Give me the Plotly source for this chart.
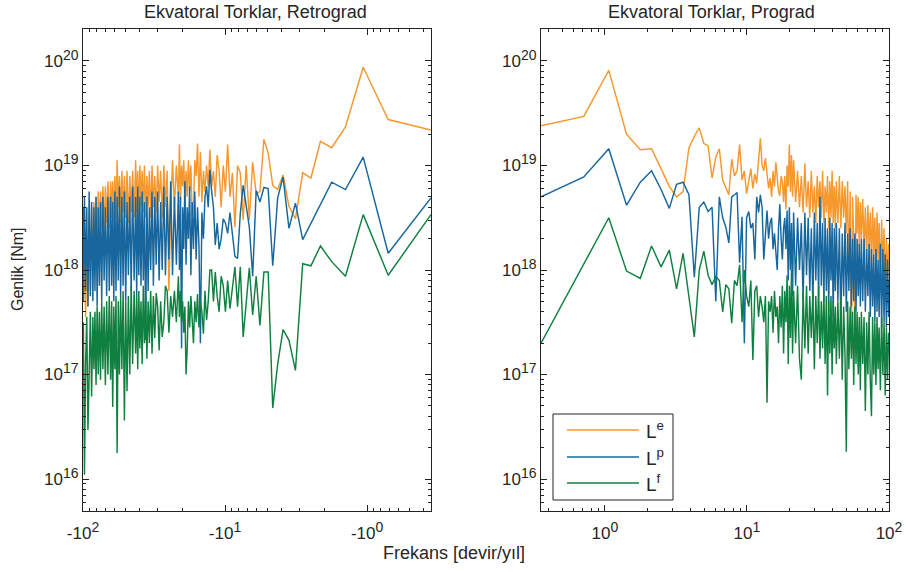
import plotly.graph_objects as go

# frequency resolution [devir/yıl] and harmonic numbers of the plotted samples
DF = 0.355
harm = [1, 2, 3, 4, 5, 6, 7, 8, 9, 10, 11, 12, 13, 14, 15, 16, 17, 18, 19, 20,
        21, 22, 23, 24, 25, 26, 27, 28, 29, 30, 31, 32, 33, 34, 35, 36, 37, 38, 39, 40,
        41, 42, 43, 44, 45, 46, 47, 48, 49, 50, 51, 52, 53, 54, 55, 56, 57, 58, 59, 60,
        62, 64, 66, 68, 70, 72, 74, 76, 78, 80, 82, 84, 86, 88, 90,
        92, 94, 96, 98, 100, 102, 104, 106, 108, 110, 112, 114, 116, 118, 120,
        123, 126, 129, 132, 135, 138, 141, 144, 147, 150,
        153, 156, 159, 162, 165, 168, 171, 174, 177, 180,
        184, 188, 192, 196, 200, 204, 208, 212, 216, 220, 224, 228, 232, 236, 240,
        245, 250, 255, 260, 265, 270, 275, 280, 282]

# amplitudes as log10(Nm)
pro_Le = [19.38, 19.47, 19.91, 19.30, 19.15, 19.16, 18.97, 18.80, 18.70, 18.75,
          19.17, 19.28, 19.36, 19.21, 19.19, 18.88, 19.08, 19.16, 18.86, 18.79,
          18.72, 19.06, 18.90, 18.95, 19.20, 18.86, 18.95, 18.73, 18.85, 18.97,
          18.78, 18.92, 18.83, 19.05, 19.26,
          19.00, 18.95, 19.07, 18.90, 18.78, 18.88, 18.70, 18.95, 18.80, 19.03,
          18.85, 18.75, 18.71, 18.90, 18.84, 18.65, 18.90, 18.58, 19.00, 18.80,
          19.20, 18.75, 19.10, 18.70, 19.05,
          18.65, 18.95, 18.60, 18.90, 18.55, 19.02, 18.60, 18.85, 18.50, 18.95,
          18.55, 18.80, 18.45, 18.90, 18.60, 18.85, 18.50, 18.95, 18.45, 18.80,
          18.55, 18.90, 18.40, 18.85, 18.50, 18.95, 18.45, 18.80, 18.40, 18.85,
          18.45, 18.90, 18.40, 18.85, 18.50, 18.80, 18.35, 18.85, 17.90, 18.75,
          17.20, 18.70, 18.30, 17.35, 18.72, 18.35, 18.70, 18.20, 18.65, 18.30,
          18.68, 18.20, 18.60, 18.10, 18.62, 18.20, 18.55, 18.05, 18.60, 18.15,
          18.50, 17.95, 18.55, 18.10, 18.45,
          17.85, 18.48, 18.00, 18.40, 17.70, 18.30, 17.90, 18.25, 18.00]
pro_Lp = [18.70, 18.89, 19.16, 18.62, 18.84, 18.95, 18.77, 18.59, 18.82, 18.84,
          18.72, 17.93, 18.60, 18.65, 18.56, 18.60, 17.70, 18.70, 18.50, 18.41,
          18.26, 18.70, 18.72, 18.74, 18.07, 18.51, 17.30, 18.50, 18.56, 18.40,
          18.45, 18.10, 18.70, 18.55, 18.72,
          18.60, 18.10, 18.40, 18.57, 18.30, 18.45, 18.50, 18.20, 18.35, 18.15,
          18.00, 18.40, 18.63, 18.30, 18.10, 18.40, 18.50, 18.20, 18.57, 17.90,
          18.60, 18.00, 18.45, 17.75, 18.55,
          17.85, 18.50, 18.00, 18.45, 17.70, 18.55, 17.95, 18.50, 17.80, 18.40,
          17.65, 18.55, 17.90, 18.45, 17.75, 18.70, 17.85, 18.45, 17.70, 18.50,
          17.80, 18.40, 17.60, 18.50, 17.90, 18.45, 17.55, 18.40, 17.80, 18.45,
          17.70, 18.40, 17.50, 18.35, 17.75, 18.45, 17.60, 18.35, 17.80, 18.40,
          17.65, 18.30, 17.70, 18.35, 17.60, 18.30, 17.75, 18.25, 17.65, 18.30,
          17.70, 18.30, 17.60, 18.20, 17.75, 18.25, 17.55, 18.20, 17.65, 18.15,
          17.50, 18.20, 17.60, 18.10, 17.55,
          18.25, 17.45, 18.20, 17.50, 18.15, 17.45, 18.10, 17.55, 17.90]
pro_Lf = [17.30, 18.06, 18.50, 17.99, 17.92, 18.23, 18.03, 18.19, 17.82, 18.16,
          17.75, 17.36, 18.00, 18.18, 17.95, 17.86, 17.94, 17.90, 17.60, 17.86,
          17.82, 17.49, 17.90, 17.85, 18.05, 17.50, 18.00, 17.75, 17.65, 17.90,
          17.14, 17.80, 17.85, 17.55, 17.75,
          17.65, 17.50, 17.75, 16.73, 17.70, 17.60, 17.75, 17.40, 17.80, 17.55,
          17.65, 17.30, 17.75, 17.45, 17.85, 17.20, 17.80, 17.50, 17.95, 17.10,
          17.85, 17.35, 18.00, 17.20, 17.80,
          17.30, 17.85, 17.15, 16.95, 17.80, 17.25, 17.85, 17.20, 17.75, 17.35,
          17.80, 17.05, 17.75, 17.30, 17.85, 17.15, 17.70, 17.25, 17.80, 17.10,
          17.75, 16.80, 17.70, 17.20, 17.75, 17.00, 17.70, 17.25, 17.65, 17.10,
          17.70, 17.15, 17.75, 16.95, 17.65, 17.20, 16.26, 17.70, 17.05, 17.65,
          17.15, 17.60, 16.90, 17.65, 17.10, 17.60, 17.00, 17.55, 16.85, 17.60,
          17.10, 17.55, 16.65, 17.50, 17.00, 17.60, 16.95, 16.60, 17.55, 17.00,
          17.50, 16.90, 17.55, 17.05, 17.45,
          16.85, 17.55, 17.00, 17.50, 16.80, 17.45, 16.95, 17.40, 17.20]

ret_Le = [19.34, 19.44, 19.94, 19.37, 19.17, 19.23, 18.88, 18.93, 18.49, 18.61,
          18.91, 18.77, 18.81, 19.12, 19.25, 18.75, 18.73, 19.03, 18.48, 19.00,
          18.48, 18.93, 19.00, 18.41, 18.93, 18.70, 19.20, 18.75, 19.00, 18.60,
          18.95, 19.10, 18.70, 18.95, 18.80,
          19.15, 18.80, 19.00, 18.75, 18.95, 18.65, 19.13, 18.70, 19.21, 18.90,
          19.05, 18.60, 18.51, 19.00, 18.75, 19.05, 18.70, 18.95, 18.60, 19.05,
          18.80, 19.00, 18.65, 19.20, 18.70,
          19.00, 18.60, 19.05, 18.55, 17.80, 18.95, 18.60, 19.00, 18.50, 18.95,
          18.65, 19.00, 18.55, 18.90, 18.60, 19.00, 18.50, 18.95, 18.60, 18.90,
          18.50, 19.00, 18.55, 18.95, 18.60, 19.00, 18.50, 18.95, 18.55, 19.05,
          18.50, 18.95, 18.55, 18.90, 18.45, 18.95, 18.50, 18.90, 18.55, 18.95,
          18.45, 18.90, 18.60, 19.05, 18.50, 18.90, 18.45, 18.85, 18.50, 18.85,
          18.40, 18.85, 18.45, 18.80, 18.35, 18.80, 18.40, 18.75, 18.30, 18.75,
          18.20, 18.70, 18.10, 18.65, 18.00,
          18.60, 17.80, 18.50, 17.65, 18.30, 17.55, 18.20, 17.70, 18.10]
ret_Lp = [18.69, 18.16, 19.08, 18.77, 18.84, 18.63, 18.44, 18.29, 18.64, 18.40,
          18.89, 18.69, 18.04, 18.78, 18.79, 18.65, 18.76, 17.94, 18.41, 18.61,
          18.81, 18.54, 18.11, 18.13, 18.32, 18.55, 18.35, 18.45, 18.49, 18.30,
          18.20, 18.45, 18.24, 18.60, 18.75,
          18.96, 18.60, 18.80, 18.70, 18.30, 18.55, 17.30, 18.24, 18.60, 18.10,
          18.75, 18.20, 18.65, 17.95, 18.80, 18.30, 18.60, 18.05, 18.85, 18.20,
          18.60, 17.25, 18.70, 18.00, 18.75,
          18.05, 18.70, 17.95, 18.85, 18.10, 18.70, 17.95, 18.80, 18.00, 18.65,
          17.90, 18.75, 18.05, 18.70, 17.85, 18.75, 18.00, 18.60, 17.80, 18.70,
          17.33, 18.65, 17.90, 18.75, 17.85, 18.70, 17.95, 18.80, 17.75, 18.70,
          17.90, 18.80, 17.80, 18.70, 17.95, 18.65, 17.70, 18.75, 17.85, 18.70,
          17.75, 18.80, 17.90, 18.70, 17.80, 18.75, 17.70, 18.65, 17.85, 18.70,
          17.80, 18.70, 17.75, 18.60, 17.90, 18.70, 17.70, 18.65, 17.85, 18.60,
          17.65, 18.70, 17.80, 18.60, 17.70,
          18.65, 17.75, 18.75, 17.65, 18.60, 17.80, 18.70, 17.70, 18.60]
ret_Lf = [18.53, 17.95, 18.53, 17.94, 18.08, 18.23, 18.04, 18.06, 17.04, 17.33,
          17.43, 17.10, 16.68, 17.98, 17.98, 17.47, 17.94, 17.57, 18.02, 17.70,
          17.36, 18.03, 17.65, 18.03, 17.80, 17.63, 17.90, 17.60, 17.85, 17.94,
          17.60, 17.75, 17.98, 17.70, 18.00,
          18.00, 17.70, 17.52, 17.80, 17.39, 17.60, 17.70, 17.45, 17.77, 17.50,
          17.70, 17.30, 17.60, 17.75, 17.45, 17.70, 17.25, 17.00, 17.65, 17.40,
          17.70, 17.50, 17.80, 17.55, 17.94,
          17.50, 17.80, 17.55, 17.75, 17.40, 17.80, 17.85, 17.50, 17.36, 17.70,
          17.23, 17.65, 17.78, 17.35, 17.75, 17.20, 17.80, 17.30, 17.70, 17.15,
          17.75, 17.30, 17.85, 17.10, 17.70, 17.25, 17.80, 17.05, 17.75, 17.20,
          17.80, 17.10, 17.85, 17.00, 17.75, 16.84, 17.70, 16.56, 17.80, 17.05,
          17.75, 17.00, 17.70, 16.25, 17.75, 17.05, 17.65, 16.69, 17.70, 16.95,
          17.75, 17.00, 17.70, 16.90, 17.65, 17.05, 17.70, 16.95, 17.60, 17.00,
          17.65, 16.90, 17.60, 17.05, 17.55,
          16.79, 17.60, 17.00, 16.47, 17.55, 17.10, 16.04, 17.50, 17.30]

series_names = ["L<sup>e</sup>", "L<sup>p</sup>", "L<sup>f</sup>"]
colors = ["#F7982F", "#17679E", "#108040"]

y_tickvals = [1e16, 1e17, 1e18, 1e19, 1e20]
y_exps = ["16", "17", "18", "19", "20"]
x_tickvals = [1, 10, 100]
x_exps = ["0", "1", "2"]

SUP = "<sup><span style='font-size:14px'>%s</span></sup>"
y_ticktext = ["10" + SUP % e for e in y_exps]
x_ticktext_pro = ["10" + SUP % e for e in x_exps]
x_ticktext_ret = ["-10" + SUP % e for e in x_exps]

freq = [DF * k for k in harm]

LW = 1.45
fig = go.Figure()
for name, col, vals in zip(series_names, colors, [ret_Le, ret_Lp, ret_Lf]):
    fig.add_trace(go.Scatter(x=freq, y=[10.0 ** v for v in vals], mode="lines",
                             line=dict(color=col, width=LW), name=name,
                             showlegend=False, hoverinfo="skip", xaxis="x", yaxis="y"))
for name, col, vals in zip(series_names, colors, [pro_Le, pro_Lp, pro_Lf]):
    fig.add_trace(go.Scatter(x=freq, y=[10.0 ** v for v in vals], mode="lines",
                             line=dict(color=col, width=LW), name=name,
                             showlegend=False, hoverinfo="skip", xaxis="x2", yaxis="y2"))

W, H = 906, 572
FONT = "Liberation Sans, Arial, sans-serif"
TXT = "#262626"
AX = "#222222"


def px(x):
    return x / W


def py(y):
    return 1 - y / H


xminor = [0.4, 0.5, 0.6, 0.7, 0.8, 0.9, 2, 3, 4, 5, 6, 7, 8, 9,
          20, 30, 40, 50, 60, 70, 80, 90]
yminor = [float(m) * 10.0 ** e for e in range(15, 21) for m in range(2, 10)]

common = dict(showline=True, linecolor=AX, linewidth=1, mirror="allticks",
              ticks="inside", ticklen=6, tickwidth=1, tickcolor=AX,
              showgrid=False, zeroline=False, type="log", automargin=False,
              tickfont=dict(family=FONT, size=17, color=TXT))


def minor(vals):
    return dict(ticks="inside", ticklen=3, tickcolor=AX, tickwidth=1,
                tickmode="array", tickvals=vals, showgrid=False)


# legend drawn as a framed box
leg_x0, leg_x1, leg_y0, leg_y1 = 553, 673, 414, 500
leg_rows = [430, 457, 483]
shapes = [dict(type="rect", xref="paper", yref="paper",
               x0=px(leg_x0), x1=px(leg_x1), y0=py(leg_y1), y1=py(leg_y0),
               line=dict(color=AX, width=1), fillcolor="white", layer="above")]
annotations = []
for name, col, yy in zip(series_names, colors, leg_rows):
    shapes.append(dict(type="line", xref="paper", yref="paper",
                       x0=px(567), x1=px(639), y0=py(yy), y1=py(yy),
                       line=dict(color=col, width=1.3), layer="above"))
    annotations.append(dict(text=name, x=px(644), y=py(yy), xref="paper", yref="paper",
                            showarrow=False, xanchor="left", yanchor="middle",
                            font=dict(family=FONT, size=19, color=TXT)))

annotations += [
    dict(text="Ekvatoral Torklar, Retrograd", x=px(255), y=py(12),
         xref="paper", yref="paper", showarrow=False,
         font=dict(family=FONT, size=18, color=TXT), xanchor="center", yanchor="middle"),
    dict(text="Ekvatoral Torklar, Prograd", x=px(711), y=py(12),
         xref="paper", yref="paper", showarrow=False,
         font=dict(family=FONT, size=18, color=TXT), xanchor="center", yanchor="middle"),
    dict(text="Frekans [devir/yıl]", x=px(454), y=py(553),
         xref="paper", yref="paper", showarrow=False,
         font=dict(family=FONT, size=18, color=TXT), xanchor="center", yanchor="middle"),
    dict(text="Genlik [Nm]", x=px(18), y=py(269), textangle=-90,
         xref="paper", yref="paper", showarrow=False,
         font=dict(family=FONT, size=16, color=TXT), xanchor="center", yanchor="middle"),
]

fig.update_layout(
    width=W, height=H,
    margin=dict(l=0, r=0, t=0, b=0, autoexpand=False),
    paper_bgcolor="white", plot_bgcolor="white",
    font=dict(family=FONT, color=TXT),
    showlegend=False,
    hovermode=False,
    xaxis=dict(domain=[px(83), px(431)], anchor="y", range=[2, -0.45],
               tickmode="array", tickvals=x_tickvals, ticktext=x_ticktext_ret,
               ticklabelstandoff=7, minor=minor(xminor), **common),
    yaxis=dict(domain=[py(511), py(29)], anchor="x", range=[15.694, 20.306],
               tickmode="array", tickvals=y_tickvals, ticktext=y_ticktext,
               minor=minor(yminor), **common),
    xaxis2=dict(domain=[px(541), px(889)], anchor="y2", range=[-0.45, 2],
                tickmode="array", tickvals=x_tickvals, ticktext=x_ticktext_pro,
                ticklabelstandoff=7, minor=minor(xminor), **common),
    yaxis2=dict(domain=[py(511), py(29)], anchor="x2", range=[15.694, 20.306],
                tickmode="array", tickvals=y_tickvals, ticktext=y_ticktext,
                minor=minor(yminor), **common),
    shapes=shapes,
    annotations=annotations,
)

fig.write_html("out.html",
               config={"displayModeBar": False, "staticPlot": True},
               post_script="document.body.style.margin='0px';document.body.style.overflow='hidden';")
